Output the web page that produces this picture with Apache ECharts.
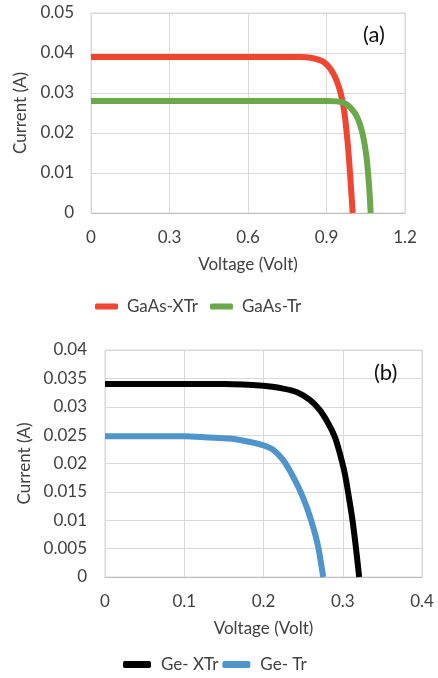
<!DOCTYPE html>
<html>
<head>
<meta charset="utf-8">
<script src="https://cdn.jsdelivr.net/npm/echarts@6/dist/echarts.min.js"></script>
<style>html,body{margin:0;padding:0;background:#fff;}#c{width:438px;height:678px;}</style>
</head>
<body>
<div id="c"></div>
<script>
// Panel (a)
const gaasXTrV = [0, 0.3, 0.6, 0.8, 0.84, 0.888, 0.926, 0.951, 0.967, 0.980, 0.990, 1.0];
const gaasXTrI = [0.039, 0.039, 0.039, 0.039, 0.0388, 0.0378, 0.0349, 0.0307, 0.0257, 0.0182, 0.0099, 0];
const gaasTrV = [0, 0.3, 0.6, 0.9, 0.964, 1.009, 1.034, 1.051, 1.061, 1.069];
const gaasTrI = [0.028, 0.028, 0.028, 0.028, 0.0276, 0.0249, 0.0208, 0.0149, 0.0083, 0];
// Panel (b)
const geXTrV = [0, 0.1, 0.15, 0.2, 0.2249, 0.2417, 0.2585, 0.2711, 0.2816, 0.29, 0.2963, 0.3026, 0.3077, 0.3123, 0.3165, 0.3207];
const geXTrI = [0.034, 0.034, 0.034, 0.0337, 0.0332, 0.0326, 0.0312, 0.0294, 0.0271, 0.0247, 0.0218, 0.0182, 0.0141, 0.0100, 0.0053, 0];
const geTrV = [0, 0.1, 0.13, 0.1576, 0.1829, 0.2, 0.2123, 0.2249, 0.2354, 0.2459, 0.2543, 0.2627, 0.269, 0.2753];
const geTrI = [0.0248, 0.0248, 0.0246, 0.0244, 0.0238, 0.0232, 0.0224, 0.0206, 0.0182, 0.0153, 0.0124, 0.0088, 0.0053, 0];

const namesA = ['GaAs-XTr', 'GaAs-Tr'];
const namesB = ['Ge- XTr', 'Ge- Tr'];
const panelLabels = ['(a)', '(b)'];
const xTitle = 'Voltage (Volt)';
const yTitle = 'Current (A)';

function pairs(xs, ys) { return xs.map((x, i) => [x, ys[i]]); }

const FONT = 'Lato';
const TXT = '#404040';
const GRIDC = '#d9d9d9';
const FS = 17;

function xAx(grid, max, interval) {
  return {
    type: 'value', gridIndex: grid, min: 0, max: max, interval: interval,
    name: xTitle, nameLocation: 'middle', nameGap: 43,
    nameTextStyle: { fontFamily: FONT, fontSize: FS, color: TXT },
    axisLine: { show: true, lineStyle: { color: '#bfbfbf', width: 1 } },
    axisTick: { show: false },
    axisLabel: { fontFamily: FONT, fontSize: FS, color: TXT, margin: 16 },
    splitLine: { show: true, lineStyle: { color: GRIDC, width: 1 } }
  };
}
function yAx(grid, max, interval, gap, margin) {
  return {
    type: 'value', gridIndex: grid, min: 0, max: max, interval: interval,
    name: yTitle, nameLocation: 'middle', nameGap: gap,
    nameTextStyle: { fontFamily: FONT, fontSize: FS, color: TXT },
    axisLine: { show: false },
    axisTick: { show: false },
    axisLabel: { fontFamily: FONT, fontSize: FS, color: TXT, margin: margin },
    splitLine: { show: true, lineStyle: { color: GRIDC, width: 1 } }
  };
}
function ser(name, xi, xs, ys, col) {
  return { name: name, type: 'line', xAxisIndex: xi, yAxisIndex: xi, data: pairs(xs, ys),
    smooth: 0.3, showSymbol: false, clip: true, color: col,
    lineStyle: { width: 6, color: col, join: 'round' }, itemStyle: { color: col } };
}

const chart = echarts.init(document.getElementById('c'), null, { renderer: 'canvas' });
chart.setOption({
  animation: false,
  backgroundColor: '#fff',
  graphic: [
    { type: 'text', z: 100, left: 363, top: 24, style: { text: panelLabels[0], font: '22px Lato', fill: '#111' } },
    { type: 'text', z: 100, left: 374, top: 362, style: { text: panelLabels[1], font: '22px Lato', fill: '#111' } }
  ],
  grid: [
    { left: 91, top: 13, width: 314, height: 200, show: true, borderColor: GRIDC, borderWidth: 1 },
    { left: 105, top: 350, width: 317, height: 227, show: true, borderColor: GRIDC, borderWidth: 1 }
  ],
  xAxis: [xAx(0, 1.2, 0.3), xAx(1, 0.4, 0.1)],
  yAxis: [yAx(0, 0.05, 0.01, 58, 17), yAx(1, 0.04, 0.005, 68, 18)],
  legend: [
    { data: namesA, left: 95, top: 298, padding: 0, icon: 'roundRect', itemWidth: 23, itemHeight: 6, itemGap: 12,
      textStyle: { fontFamily: FONT, fontSize: FS, color: TXT, padding: [0, 0, 0, 4] } },
    { data: namesB, left: 123, top: 656, padding: 0, icon: 'roundRect', itemWidth: 28, itemHeight: 7, itemGap: 4,
      textStyle: { fontFamily: FONT, fontSize: FS, color: TXT, padding: [0, 0, 10, 5] } }
  ],
  series: [
    ser(namesA[0], 0, gaasXTrV, gaasXTrI, '#ee4630'),
    ser(namesA[1], 0, gaasTrV, gaasTrI, '#6aa84b'),
    ser(namesB[0], 1, geXTrV, geXTrI, '#000000'),
    ser(namesB[1], 1, geTrV, geTrI, '#4f95cc')
  ]
});
</script>
</body>
</html>
